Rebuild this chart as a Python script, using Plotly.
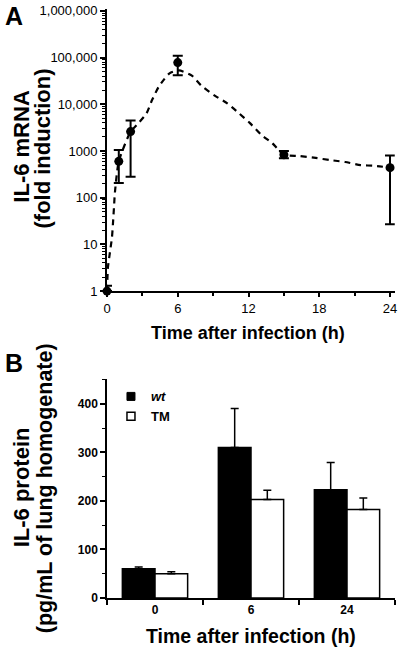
import plotly.graph_objects as go

# ---------------- Panel A data: IL-6 mRNA (fold induction) ----------------
mrna_time = [0, 1, 2, 6, 15, 24]
mrna_mean = [1, 600, 2600, 78000, 830, 440]
mrna_upper = [1.3, 1050, 4500, 110000, 1000, 800]
mrna_lower = [1, 205, 280, 42000, 700, 27]

# dashed smoothed trend line
trend_time = [0, 0.08, 0.25, 0.42, 0.51, 0.59, 0.67, 1.0, 2.0, 2.5, 3.35, 3.8, 4.4,
              5.3, 6.1, 7.2, 8.0, 9.1, 10.2, 11.2, 12.1, 13.1, 14.0, 15.0, 16.3,
              17.7, 18.9, 20.2, 21.5, 22.7, 24.0]
trend_vals = [1, 3.2, 6.8, 14, 29, 61, 128, 600, 2600, 3550, 6400, 12000, 24000,
              46000, 53000, 41000, 25000, 15500, 10500, 6400, 4000, 2200, 1480, 830, 780,
              710, 640, 580, 500, 480, 440]

a_ytick_vals = [1, 10, 100, 1000, 10000, 100000, 1000000]
a_ytick_text = ["1", "10", "100", "1000", "10,000", "100,000", "1,000,000"]
a_xtick_vals = [0, 6, 12, 18, 24]
a_xminor_vals = [3, 9, 15, 21]
a_yminor_vals = [k * 10 ** d for d in range(6) for k in range(2, 10)]

# ---------------- Panel B data: IL-6 protein ----------------
protein_time = ["0", "6", "24"]
wt_mean = [60, 310, 223]
wt_err = [4, 80, 56]
tm_mean = [50, 203, 182]
tm_err = [4, 19, 24]

FONT = "Liberation Sans, Arial, sans-serif"

fig = go.Figure()

fig.add_trace(go.Scatter(
    x=trend_time, y=trend_vals, mode="lines",
    line=dict(color="black", width=2.2, dash="6px,5px", shape="spline", smoothing=0.6),
    xaxis="x", yaxis="y", showlegend=False, hoverinfo="skip", cliponaxis=False))

fig.add_trace(go.Scatter(
    x=mrna_time, y=mrna_mean, mode="markers",
    marker=dict(color="black", size=9),
    error_y=dict(type="data", symmetric=False,
                 array=[u - m for u, m in zip(mrna_upper, mrna_mean)],
                 arrayminus=[m - l for m, l in zip(mrna_mean, mrna_lower)],
                 color="black", thickness=2, width=5),
    xaxis="x", yaxis="y", showlegend=False, cliponaxis=False))

fig.add_trace(go.Bar(
    x=protein_time, y=wt_mean, name="wt",
    marker=dict(color="black", line=dict(color="black", width=1.5)),
    error_y=dict(type="data", symmetric=False, array=wt_err, arrayminus=[0] * len(wt_err),
                 color="black", thickness=1.5, width=4),
    xaxis="x2", yaxis="y2", showlegend=False))

fig.add_trace(go.Bar(
    x=protein_time, y=tm_mean, name="TM",
    marker=dict(color="white", line=dict(color="black", width=1.5)),
    error_y=dict(type="data", symmetric=False, array=tm_err, arrayminus=[0] * len(tm_err),
                 color="black", thickness=1.5, width=4),
    xaxis="x2", yaxis="y2", showlegend=False))

# legend entries
fig.add_trace(go.Scatter(
    x=[None], y=[None], mode="markers", name="<i>wt</i>",
    marker=dict(symbol="square", size=8, color="black", line=dict(color="black", width=1)),
    xaxis="x2", yaxis="y2"))
fig.add_trace(go.Scatter(
    x=[None], y=[None], mode="markers", name="TM",
    marker=dict(symbol="square", size=8, color="white", line=dict(color="black", width=1.5)),
    xaxis="x2", yaxis="y2"))

L, R, T, B = 107, 3, 5, 51
W, H = 400, 649
PW, PH = W - L - R, H - T - B
A_XMAX = 24.4          # a little room so the last error bar is not clipped
A_PX_PER_H = (392 - 107) / 24


def px(x):
    return (x - L) / PW


def py(y):
    return (H - B - y) / PH


fig.update_layout(
    width=W, height=H,
    margin=dict(l=L, r=R, t=T, b=B),
    paper_bgcolor="white", plot_bgcolor="white",
    font=dict(family=FONT, color="black"),
    barmode="group", bargap=0.32, bargroupgap=0,
    xaxis=dict(domain=[0, px(107 + A_XMAX * A_PX_PER_H)], anchor="y", range=[0, A_XMAX],
               tickvals=a_xtick_vals, ticks="outside", ticklen=4, tickwidth=1.5,
               tickcolor="black", showline=True, linewidth=2, linecolor="black",
               showgrid=False, zeroline=False, tickfont=dict(size=13),
               minor=dict(tickvals=a_xminor_vals, ticks="outside", ticklen=3,
                          tickwidth=1.5, tickcolor="black")),
    yaxis=dict(domain=[py(289), py(5)], anchor="x", type="log", range=[0, 6.04],
               tickvals=a_ytick_vals, ticktext=a_ytick_text, ticks="outside",
               ticklen=5, tickwidth=1.5, tickcolor="black", showline=True,
               linewidth=2, linecolor="black", showgrid=False, zeroline=False,
               tickfont=dict(size=13), ticklabeloverflow="allow",
               minor=dict(tickvals=a_yminor_vals, ticks="outside", ticklen=3,
                          tickwidth=1, tickcolor="black")),
    xaxis2=dict(domain=[0, 1], anchor="y2", type="category", tickson="boundaries",
                ticks="outside", ticklen=5, tickwidth=1.5, tickcolor="black",
                showline=True, linewidth=1.5, linecolor="black", showgrid=False,
                zeroline=False, tickfont=dict(size=12, weight="bold")),
    yaxis2=dict(domain=[0, py(378)], anchor="x2", range=[0, 450],
                tickvals=[0, 100, 200, 300, 400], ticks="outside", ticklen=5,
                tickwidth=1.5, tickcolor="black", showline=True, linewidth=1.5,
                linecolor="black", showgrid=False, zeroline=False,
                tickfont=dict(size=12, weight="bold"),
                minor=dict(dtick=50, ticks="outside", ticklen=3, tickwidth=1,
                           tickcolor="black")),
    legend=dict(x=px(111), y=py(380), xanchor="left", yanchor="top",
                bgcolor="rgba(0,0,0,0)", font=dict(size=13, weight="bold"),
                tracegroupgap=0, itemwidth=30),
)

ann = [
    dict(text="<b>A</b>", x=px(2), y=py(12), xanchor="left", yanchor="middle",
         font=dict(size=25)),
    dict(text="<b>B</b>", x=px(2), y=py(361), xanchor="left", yanchor="middle",
         font=dict(size=25)),
    dict(text="<b>IL-6 mRNA</b>", x=px(20), y=py(143), textangle=-90,
         xanchor="center", yanchor="middle", font=dict(size=22)),
    dict(text="<b>(fold induction)</b>", x=px(42), y=py(145), textangle=-90,
         xanchor="center", yanchor="middle", font=dict(size=22)),
    dict(text="<b>Time after infection (h)</b>", x=px(249), y=py(331),
         xanchor="center", yanchor="middle", font=dict(size=18)),
    dict(text="<b>IL-6 protein</b>", x=px(21), y=py(487), textangle=-90,
         xanchor="center", yanchor="middle", font=dict(size=22)),
    dict(text="<b>(pg/mL of lung homogenate)</b>", x=px(44), y=py(487), textangle=-90,
         xanchor="center", yanchor="middle", font=dict(size=21.5)),
    dict(text="<b>Time after infection (h)</b>", x=px(252), y=py(636),
         xanchor="center", yanchor="middle", font=dict(size=19.5)),
]
for a in ann:
    a.update(xref="paper", yref="paper", showarrow=False)
fig.update_layout(annotations=ann)

fig.write_html("out.html",
               config={"displayModeBar": False},
               post_script="document.body.style.margin='0';"
                           "document.body.style.overflow='hidden';")
